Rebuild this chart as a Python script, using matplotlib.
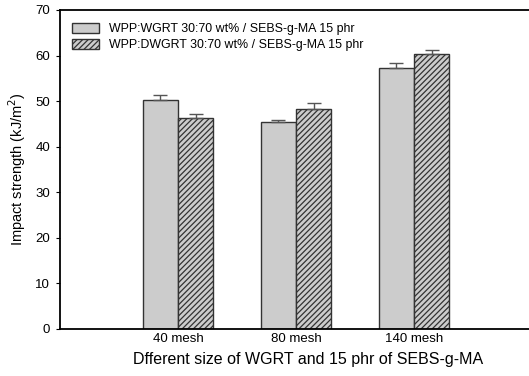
import matplotlib
matplotlib.use("Agg")
import matplotlib.pyplot as plt
import numpy as np

plt.rcParams['font.family'] = ['Liberation Sans', 'DejaVu Sans']
plt.rcParams['hatch.linewidth'] = 0.9
plt.rcParams['hatch.color'] = '#333333'

categories = ['40 mesh', '80 mesh', '140 mesh']
wgrt = [50.3, 45.4, 57.3]
wgrt_err = [1.0, 0.5, 1.1]
dwgrt = [46.2, 48.2, 60.4]
dwgrt_err = [0.9, 1.3, 0.9]
labels = ['WPP:WGRT 30:70 wt% / SEBS-g-MA 15 phr',
          'WPP:DWGRT 30:70 wt% / SEBS-g-MA 15 phr']
yticks = [0, 10, 20, 30, 40, 50, 60, 70]

fig = plt.figure(figsize=(5.29, 3.76), dpi=100)
left_px, right_px = 60, 556
ax = fig.add_axes([left_px/529, 1-328.7/376, (right_px-left_px)/529, (328.7-10)/376])

x = np.arange(1, len(categories)+1)
w = 0.3
ax.bar(x - w/2, wgrt, w, color='#cccccc', edgecolor='#333333', linewidth=1.0,
       yerr=[np.zeros(3), wgrt_err], ecolor='#555555',
       error_kw=dict(capsize=5, elinewidth=1.0, capthick=1.0), label=labels[0])
ax.bar(x + w/2, dwgrt, w, color='#cccccc', edgecolor='#333333', linewidth=1.0,
       hatch='//////', yerr=[np.zeros(3), dwgrt_err], ecolor='#555555',
       error_kw=dict(capsize=5, elinewidth=1.0, capthick=1.0), label=labels[1])

ax.set_xlim(0, (right_px-left_px)/118)
ax.set_ylim(0, 70)
ax.set_yticks(yticks)
ax.set_xticks(x)
ax.set_xticklabels(categories, fontsize=9.5)
ax.tick_params(axis='x', length=0, pad=3)
ax.tick_params(axis='y', direction='out', length=3, labelsize=9.5, pad=4)
for s in ['left', 'bottom', 'top']:
    ax.spines[s].set_linewidth(1.3)
ax.spines['right'].set_visible(False)

ax.set_ylabel('Impact strength (kJ/m$^2$)', fontsize=10.5, labelpad=5)
ax.set_xlabel('Dfferent size of WGRT and 15 phr of SEBS-g-MA', fontsize=11.5, labelpad=5)

ax.legend(loc='upper left', frameon=False, fontsize=8.9, handlelength=2.2,
          handleheight=0.8, borderaxespad=0.3, labelspacing=0.3,
          bbox_to_anchor=(0.007, 0.985))

fig.savefig('out.png', dpi=100)
